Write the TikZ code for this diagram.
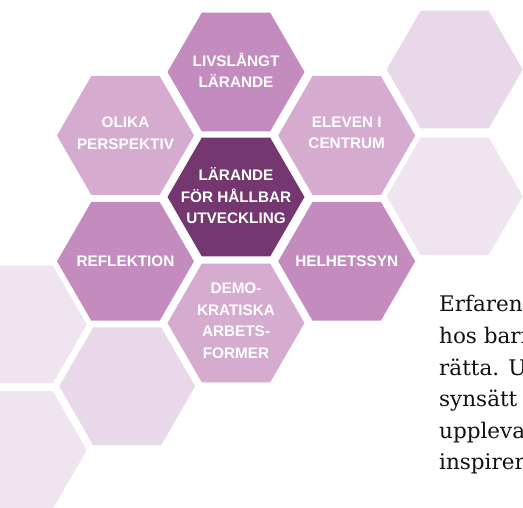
\documentclass[tikz,border=0pt]{standalone}
\usepackage{fontspec}
\setmainfont{DejaVu Serif}
\newfontfamily\labfont{Liberation Sans}
\usetikzlibrary{shapes.geometric}
\definecolor{hdark}{HTML}{74376F}
\definecolor{hmid}{HTML}{C48CBE}
\definecolor{hlight}{HTML}{D5ABCF}
\definecolor{hpale}{HTML}{E9D8EA}
\definecolor{hpaler}{HTML}{F0E4F0}
\definecolor{ptext}{HTML}{111111}
\begin{document}
\begin{tikzpicture}[x=1pt,y=-1pt,
  hexa/.style={regular polygon, regular polygon sides=6,
    minimum size=137pt, inner sep=0pt, outer sep=0pt, draw=none},
  hexsmall/.style={hexa, minimum size=136pt},
  lab/.style={align=center, text=white, inner sep=0pt,
    font=\labfont\bfseries\fontsize{15.3}{21.5}\selectfont},
  para/.style={anchor=base west, inner sep=0pt, text=ptext,
    font=\fontsize{21.5}{31.6}\selectfont}
]
\useasboundingbox (0,0) rectangle (523,508);
\clip (0,0) rectangle (523,508);
% background hexagons
\node[hexsmall, fill=hpale]  (r1) at (454.7,69.5) {};
\node[hexsmall, fill=hpaler] (r2) at (454.7,196.3) {};
\node[hexsmall, fill=hpaler] (l1) at (18.8,324.5) {};
\node[hexsmall, fill=hpaler] (l2) at (18.8,450) {};
\node[hexsmall, fill=hpale]  (m1) at (127.2,386.3) {};
% main hexagons
\node[hexa, fill=hmid]   (top)  at (236,72) {};
\node[hexa, fill=hlight] (ol)   at (125.5,135.5) {};
\node[hexa, fill=hlight] (el)   at (346.7,135.5) {};
\node[hexa, fill=hdark]  (ctr)  at (236,197) {};
\node[hexa, fill=hmid]   (ref)  at (125.5,261.3) {};
\node[hexa, fill=hmid]   (hel)  at (346.7,261.3) {};
\node[hexa, fill=hlight] (demo) at (236,323) {};
% labels
\node[lab] (ttop)  at (236,70.5) {LIVSLÅNGT\\LÄRANDE};
\node[lab] (tol)   at (125.5,133) {OLIKA\\PERSPEKTIV};
\node[lab] (tel)   at (346.7,133) {ELEVEN I\\CENTRUM};
\node[lab] (tctr)  at (236,196) {LÄRANDE\\FÖR HÅLLBAR\\UTVECKLING};
\node[lab] (tref)  at (125.5,261.5) {REFLEKTION};
\node[lab] (thel)  at (346.7,261.5) {HELHETSSYN};
\node[lab] (tdemo) at (236,320.5) {DEMO-\\KRATISKA\\ARBETS-\\FORMER};
% paragraph (cut by the picture edge, as in the reference)
\node[para] (p1) at (439,311.7) {Erfaren};
\node[para] (p2) at (439,343.3) {hos barn};
\node[para] (p3) at (439,375.0) {rätta. U};
\node[para] (p4) at (439,406.6) {synsätt};
\node[para] (p5) at (439,438.2) {uppleva};
\node[para] (p6) at (439,469.8) {inspirer};
\end{tikzpicture}
\end{document}
